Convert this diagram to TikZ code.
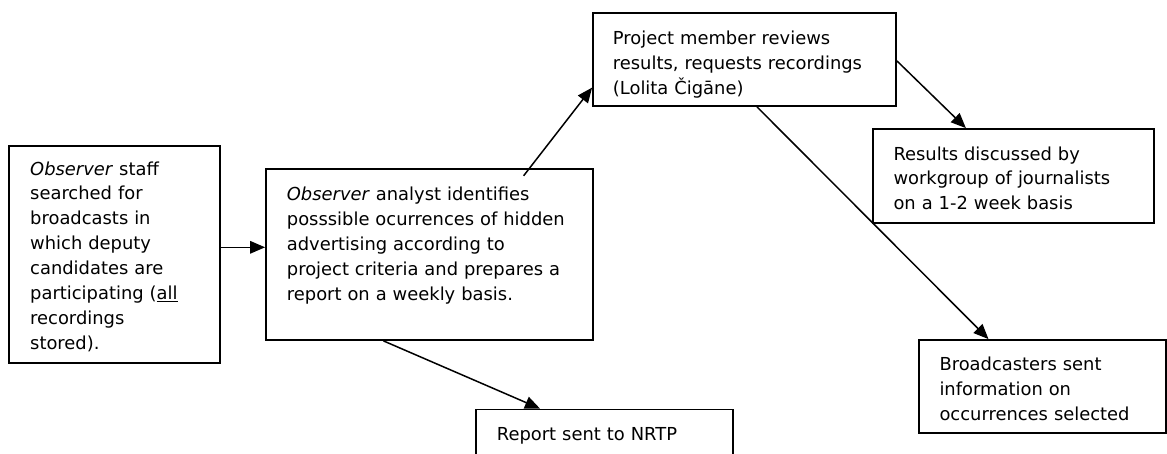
\documentclass[tikz,border=0pt]{standalone}
\usepackage{fontspec}
\setmainfont{DejaVu Sans}
\usetikzlibrary{arrows.meta}
\begin{document}
\begin{tikzpicture}[x=1pt,y=-1pt,
  box/.style={draw,line width=1.8pt,rectangle,inner sep=0pt},
  txt/.style={anchor=base west,inner sep=0pt,text width=420pt,align=left,font=\fontsize{17.9}{24.9}\selectfont},
  link/.style={line width=1.5pt,-{Triangle[length=15pt,width=12.5pt]}}]
\useasboundingbox (0,0) rectangle (1167,453);
\clip (0,0) rectangle (1167,453);
% boxes
\node[box,minimum width=211pt,minimum height=217pt] (b1) at (114.5,254.5) {};
\node[box,minimum width=327pt,minimum height=171pt] (b2) at (429.5,254.5) {};
\node[box,minimum width=303pt,minimum height=93pt] (b3) at (744.5,59.5) {};
\node[box,minimum width=281pt,minimum height=94pt] (b4) at (1013.5,176) {};
\node[box,minimum width=247pt,minimum height=93pt] (b5) at (1042.5,386.5) {};
\node[box,minimum width=257pt,minimum height=71pt] (b6) at (604.5,445) {};
% texts
\node[txt] (t1) at (30,175) {\textit{Observer} staff\\searched for\\broadcasts in\\which deputy\\candidates are\\participating (\underline{all}\\recordings\\stored).};
\node[txt] (t2) at (286.7,200.7) {\textit{Observer} analyst identifies\\posssible ocurrences of hidden\\advertising according to\\project criteria and prepares a\\report on a weekly basis.};
\node[txt] (t3) at (612.7,44.3) {Project member reviews\\results, requests recordings\\(Lolita Čigāne)};
\node[txt] (t4) at (893.3,160) {Results discussed by\\workgroup of journalists\\on a 1-2 week basis};
\node[txt] (t5) at (939.3,370.7) {Broadcasters sent\\information on\\occurrences selected};
\node[txt] (t6) at (496.7,440) {Report sent to NRTP};
% connectors
\draw[link] ([yshift=7.2pt]b1.east) -- ([yshift=7.2pt]b2.west);
\draw[link] ([shift={(-70.3,7.7)}]b2.north east) -- ([shift={(0,-19.3)}]b3.south west);
\draw[link] ([shift={(0,-46)}]b3.south east) -- ([shift={(-189,0)}]b4.north east);
\draw[link] ([shift={(12.5,0)}]b3.south) -- ([shift={(-54,0)}]b5.north);
\draw[link] ([shift={(-46,0)}]b2.south) -- ([shift={(-64.5,0)}]b6.north);
\end{tikzpicture}
\end{document}
